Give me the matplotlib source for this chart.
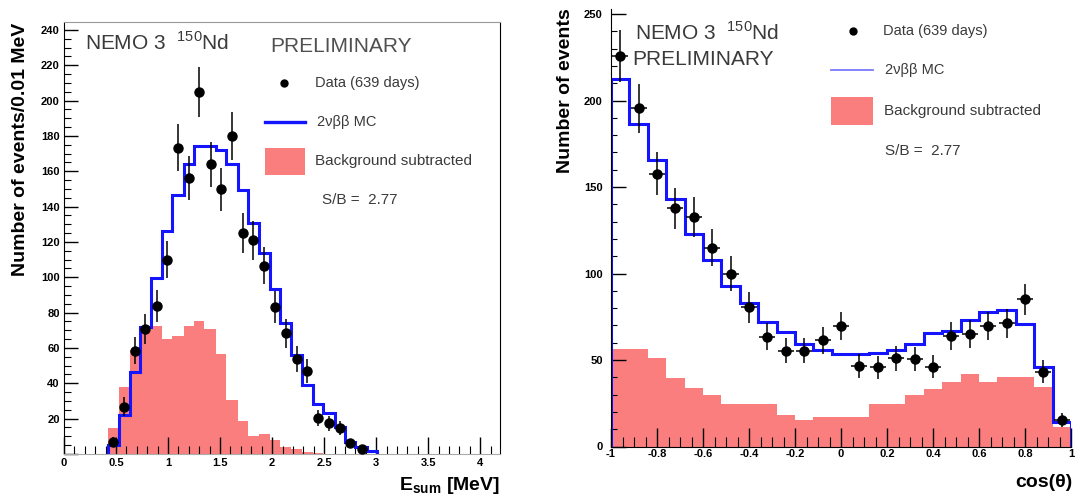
import matplotlib
matplotlib.use("Agg")
import matplotlib.pyplot as plt
from matplotlib.lines import Line2D
from matplotlib.patches import Rectangle
from matplotlib.ticker import MultipleLocator, FuncFormatter

plt.rcParams['font.family'] = ['Liberation Sans', 'DejaVu Sans']
plt.rcParams['mathtext.fontset'] = 'custom'
plt.rcParams['mathtext.rm'] = 'Liberation Sans'
plt.rcParams['mathtext.bf'] = 'Liberation Sans:bold'
plt.rcParams['axes.unicode_minus'] = False

# Left panel: energy sum spectrum
esum_edges = [0.42, 0.53, 0.63, 0.73, 0.84, 0.94, 1.04, 1.15, 1.25, 1.35, 1.46, 1.56, 1.67,
              1.77, 1.87, 1.98, 2.08, 2.18, 2.29, 2.39, 2.49, 2.60, 2.70, 2.80, 2.91, 3.01]
esum_mc = [5, 22, 46.6, 72, 99.4, 126.4, 146.6, 164, 174.5, 174.5, 172, 164, 149.4,
           131, 113.6, 93.2, 74, 56, 39, 28.3, 23, 15.5, 7, 4, 1.5]
esum_bkg = [14.5, 38, 59, 70, 72.5, 65, 67, 72.5, 75.5, 71, 56.7, 30.8, 18.4,
            10.4, 11.5, 7.7, 4, 2.6, 1, 0.5, 0, 0, 0, 0, 0]
esum_x = [0.47, 0.58, 0.68, 0.78, 0.89, 0.99, 1.10, 1.20, 1.30, 1.41, 1.51, 1.61,
          1.72, 1.82, 1.92, 2.03, 2.13, 2.24, 2.34, 2.44, 2.55, 2.65, 2.75, 2.86]
esum_data = [7, 26.8, 58.5, 70.6, 83.8, 110, 173.3, 156.4, 205, 164, 149.8, 180,
             125, 121, 106.6, 83, 68.3, 53.8, 47, 20.2, 17.4, 14.9, 6, 2.6]
esum_err = [2.6, 5.2, 7.6, 8.4, 9.2, 10.5, 13.2, 12.5, 14.3, 12.8, 12.2, 13.4,
            11.2, 11, 10.3, 9.1, 8.3, 7.3, 6.9, 4.5, 4.2, 3.9, 2.4, 1.6]

# Right panel: angular distribution
cos_edges = [-1.0, -0.92, -0.84, -0.76, -0.68, -0.60, -0.52, -0.44, -0.36, -0.28, -0.20,
             -0.12, -0.04, 0.04, 0.12, 0.20, 0.28, 0.36, 0.44, 0.52, 0.60, 0.68, 0.76,
             0.84, 0.92, 1.0]
cos_mc = [212.6, 186.4, 165.7, 142.8, 122.9, 108, 93, 83, 72, 66, 59, 56, 53.5,
          53.5, 54, 55.5, 59, 65.5, 66.5, 73.2, 78, 79, 71, 46.2, 14]
cos_bkg = [56.5, 56.5, 51, 39.5, 34, 30, 24.5, 24.5, 24.5, 18, 15.5, 17, 17,
           17, 24.5, 24.5, 30, 33, 37, 42, 37.5, 40, 40, 34.5, 11]
cos_x = [-0.96, -0.88, -0.80, -0.72, -0.64, -0.56, -0.48, -0.40, -0.32, -0.24, -0.16,
         -0.08, 0.0, 0.08, 0.16, 0.24, 0.32, 0.40, 0.48, 0.56, 0.64, 0.72, 0.80, 0.88, 0.96]
cos_data = [225.6, 195.5, 157.8, 137.6, 132.6, 115, 100, 80.4, 63.5, 55.4, 55.4, 61.5,
            69.6, 46.5, 45.8, 51, 50.6, 46.2, 63.8, 65, 69.6, 71.2, 85, 43.3, 15.4]
cos_err = [15, 14, 12.6, 11.7, 11.5, 10.7, 10, 9, 8, 7.4, 7.4, 7.8,
           8.3, 6.8, 6.8, 7.1, 7.1, 6.8, 8, 8, 8.3, 8.4, 9.2, 6.6, 3.9]

W, H = 1076, 495
RED = '#fa7e7e'
BLUE = '#1414ff'
TXT = '#3a3a3a'

fig = plt.figure(figsize=(W / 100, H / 100), dpi=100)


def fx(x):
    return x / W


def fy(y):
    return 1 - y / H


def fmt(v, pos):
    v = round(v, 6)
    if v == 0:
        return "0"
    return f"{v:g}"


# ---------------- left panel ----------------
ax1 = fig.add_axes([fx(64), fy(454), 436 / W, 432 / H])
ax1.stairs(esum_bkg, esum_edges, fill=True, color=RED, zorder=1)
ax1.stairs(esum_mc, esum_edges, color=BLUE, lw=2.2, zorder=2)
ax1.errorbar(esum_x, esum_data, yerr=esum_err, fmt='o', color='black', ms=6.5,
             elinewidth=1.1, capsize=0, zorder=3)
ax1.set_xlim(0, 4.19)
ax1.set_ylim(0, 244.5)
ax1.xaxis.set_major_locator(MultipleLocator(0.5))
ax1.xaxis.set_minor_locator(MultipleLocator(0.1))
ax1.yaxis.set_major_locator(MultipleLocator(20))
ax1.yaxis.set_minor_locator(MultipleLocator(5))
ax1.xaxis.set_major_formatter(FuncFormatter(fmt))
ax1.yaxis.set_major_formatter(FuncFormatter(lambda v, p: '' if v == 0 else f"{v:g}"))
ax1.tick_params(axis='x', which='major', direction='in', length=12, width=1, labelsize=8, pad=3)
ax1.tick_params(axis='x', which='minor', direction='in', length=6, width=0.8)
ax1.tick_params(axis='y', which='major', direction='in', length=10, width=1, labelsize=8, pad=3)
ax1.tick_params(axis='y', which='minor', direction='in', length=5, width=0.8)
ax1.spines['top'].set_color('#999999')
ax1.spines['top'].set_linewidth(0.8)
ax1.spines['bottom'].set_color('#aaaaaa')
ax1.spines['bottom'].set_linewidth(0.8)
for lab in ax1.get_xticklabels() + ax1.get_yticklabels():
    lab.set_fontweight('bold')

# ---------------- right panel ----------------
ax2 = fig.add_axes([fx(611), fy(446.5), 460 / W, (446.5 - 9) / H])
ax2.stairs(cos_bkg, cos_edges, fill=True, color=RED, zorder=1)
ax2.stairs(cos_mc, cos_edges, color=BLUE, lw=2.2, zorder=2)
ax2.errorbar(cos_x, cos_data, yerr=cos_err, xerr=0.035, fmt='o', color='black', ms=6.5,
             elinewidth=1.1, capsize=0, zorder=3)
ax2.set_xlim(-1, 1)
ax2.set_ylim(0, 252.9)
ax2.xaxis.set_major_locator(MultipleLocator(0.2))
ax2.xaxis.set_minor_locator(MultipleLocator(0.05))
ax2.yaxis.set_major_locator(MultipleLocator(50))
ax2.yaxis.set_minor_locator(MultipleLocator(10))
ax2.xaxis.set_major_formatter(FuncFormatter(fmt))
ax2.yaxis.set_major_formatter(FuncFormatter(fmt))
ax2.tick_params(axis='x', which='major', direction='in', length=14, width=1, labelsize=8, pad=2)
ax2.tick_params(axis='x', which='minor', direction='in', length=7, width=0.8)
ax2.tick_params(axis='y', which='major', direction='in', length=11, width=1, labelsize=8, pad=6)
ax2.tick_params(axis='y', which='minor', direction='in', length=4, width=0.8)
ax2.spines['top'].set_visible(False)
ax2.spines['right'].set_visible(False)
for lab in ax2.get_xticklabels() + ax2.get_yticklabels():
    lab.set_fontweight('bold')

# ---------------- axis titles ----------------
fig.text(fx(21), fy(23), "Number of events/0.01 MeV", rotation=90, ha='center', va='top',
         fontsize=14, fontweight='bold')
fig.text(fx(566), fy(8), "Number of events", rotation=90, ha='center', va='top',
         fontsize=14, fontweight='bold')
fig.text(fx(500), fy(490), r"E$_{\mathbf{sum}}$ [MeV]", ha='right', va='baseline',
         fontsize=14, fontweight='bold')
fig.text(fx(1073), fy(487), "cos(θ)", ha='right', va='baseline',
         fontsize=14, fontweight='bold')

# ---------------- labels and legends ----------------
fig.text(fx(85), fy(50), r"NEMO 3  $^{150}$Nd", ha='left', va='baseline', fontsize=15, color=TXT)
fig.text(fx(270), fy(52), "PRELIMINARY", ha='left', va='baseline', fontsize=15, color='#505050')
fig.text(fx(635), fy(40), r"NEMO 3  $^{150}$Nd", ha='left', va='baseline', fontsize=15, color=TXT)
fig.text(fx(632), fy(65), "PRELIMINARY", ha='left', va='baseline', fontsize=15, color=TXT)


def legend(x0, x1, ydot, xdot, xt_dot, yline, xt_line, lw, lcol, ybox0, ybox1, xt_box, ybox, xsb, ysb):
    fig.add_artist(Line2D([fx(xdot)], [fy(ydot)], marker='o', color='black', ms=5,
                          transform=fig.transFigure))
    fig.text(fx(xt_dot), fy(ydot), "Data (639 days)", ha='left', va='center', fontsize=10.5, color=TXT)
    fig.add_artist(Line2D([fx(x0), fx(x1)], [fy(yline), fy(yline)], color=lcol, lw=lw,
                          transform=fig.transFigure))
    fig.text(fx(xt_line), fy(yline), "2νββ MC", ha='left', va='center', fontsize=10.5, color=TXT)
    fig.add_artist(Rectangle((fx(x0), fy(ybox1)), (x1 - x0) / W, (ybox1 - ybox0) / H,
                             facecolor=RED, edgecolor='none', transform=fig.transFigure))
    fig.text(fx(xt_box), fy(ybox), "Background subtracted", ha='left', va='center',
             fontsize=11, color=TXT)
    fig.text(fx(xsb), fy(ysb), "S/B =  2.77", ha='left', va='center', fontsize=11, color=TXT)


legend(265, 305, 83, 284, 315, 122, 317, 2.4, BLUE, 148, 175, 315, 161, 322, 200)
legend(831, 873, 31, 853, 883, 70, 885, 1.3, '#7a7aff', 97, 125, 884, 111, 885, 151)

fig.savefig("out.png", dpi=100)
